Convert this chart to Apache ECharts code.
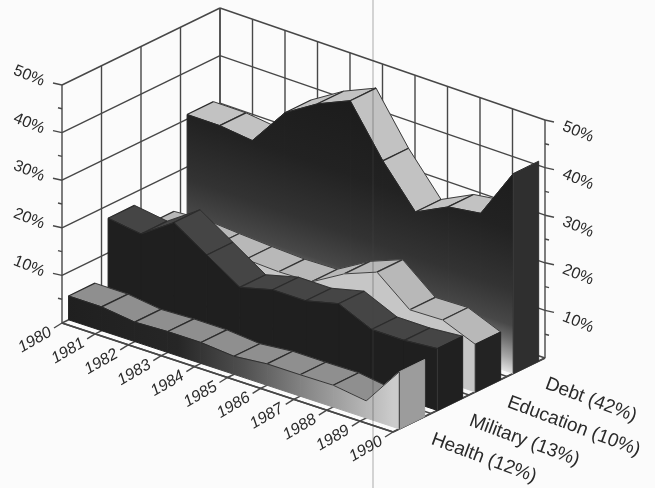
<!DOCTYPE html>
<html>
<head>
<meta charset="utf-8">
<style>html,body{margin:0;padding:0;background:#fbfbfb}#chart{width:655px;height:488px}</style>
<script src="https://cdn.jsdelivr.net/npm/echarts@6/dist/echarts.min.js"></script>
</head>
<body>
<div id="chart"></div>
<script>
// Share of spending by category, 1980-1990, drawn as a row of ribbons in an oblique box.
const years = ['1980','1981','1982','1983','1984','1985','1986','1987','1988','1989','1990'];
const pctTicks = [10, 20, 30, 40, 50];
const debt = [31, 31, 30.2, 38.4, 42.6, 45.6, 35.3, 26.9, 30.3, 31.3, 42];
const education = [12, 12.5, 12, 11.6, 11.3, 11.5, 15.5, 18.2, 12.6, 12.8, 10];
const military = [17.3, 16.3, 21, 16.5, 12, 13.8, 13.8, 15.5, 12.4, 12.4, 13];
const health = [5, 5, 4.1, 4.4, 4.4, 3.8, 4.5, 4.5, 4.6, 3.6, 12];

const FONT = '"Liberation Sans", Arial, sans-serif';
const INK = '#2a2a2a';
const LINE = '#474747';

// Floor corners of the box; the value axis rises straight up from them.
const PLOT = {left: 62, top: 85, width: 331, height: 238};
const FLOOR = {a: [62, 323], b: [393, 432], c: [545, 358], d: [220, 246]};

function floorAt(t, f) {
  const front = [FLOOR.a[0] + (FLOOR.b[0] - FLOOR.a[0]) * t, FLOOR.a[1] + (FLOOR.b[1] - FLOOR.a[1]) * t];
  const back = [FLOOR.d[0] + (FLOOR.c[0] - FLOOR.d[0]) * t, FLOOR.d[1] + (FLOOR.c[1] - FLOOR.d[1]) * t];
  return [front[0] + (back[0] - front[0]) * f, front[1] + (back[1] - front[1]) * f];
}

// Maps (year index, value, depth 0..1) through the cartesian scales onto the oblique box.
function projector(api) {
  return function (i, value, f) {
    const base = api.coord([i, 0]);
    const top = api.coord([i, value]);
    const t = (base[0] - PLOT.left) / PLOT.width;
    const p = floorAt(t, f);
    return [p[0], p[1] + top[1] - base[1]];
  };
}

const line = (p, q, width, color) => ({
  type: 'line', silent: true,
  shape: {x1: p[0], y1: p[1], x2: q[0], y2: q[1]},
  style: {stroke: color || LINE, lineWidth: width || 1.4}
});
const poly = (points, fill, stroke, width) => ({
  type: 'polygon', silent: true,
  shape: {points: points},
  style: {fill: fill, stroke: stroke || fill, lineWidth: width === undefined ? 1 : width}
});
const label = (text, p, degrees, size, italic, align) => ({
  type: 'text', silent: true, x: p[0], y: p[1], rotation: degrees * Math.PI / 180,
  style: {
    text: text, fill: INK, fontFamily: FONT, fontSize: size, fontStyle: italic ? 'italic' : 'normal',
    align: align || 'center', verticalAlign: 'middle'
  }
});

// Walls, floor, grid and axis ticks.
function renderFrame(params, api) {
  const P = projector(api);
  const els = [];
  const last = years.length - 1;
  pctTicks.forEach(v => {
    els.push(line(P(0, v, 0), P(0, v, 1)));
    els.push(line(P(0, v, 1), P(last, v, 1)));
    const l = P(0, v, 0), r = P(last, v, 1);
    els.push(line([l[0] - 9, l[1] - 2], l));
    els.push(line(r, [r[0] + 9, r[1] + 2]));
    const lm = P(0, v - 5, 0), rm = P(last, v - 5, 1);
    els.push(line([lm[0] - 4, lm[1] - 1], lm));
    els.push(line(rm, [rm[0] + 4, rm[1] + 1]));
  });
  for (let d = 0; d <= 4; d++) {
    els.push(line(P(0, 0, d / 4), P(0, 50, d / 4)));
    els.push(line(P(0, 0, d / 4), P(last, 0, d / 4)));
  }
  years.forEach((y, i) => {
    els.push(line(P(i, 0, 1), P(i, 50, 1)));
    els.push(line(P(i, 0, 0), P(i, 0, 1)));
    const t = P(i, 0, 0);
    els.push(line([t[0] - 8, t[1] + 5], t));
  });
  els.push(line(P(last, 0, 0), P(last, 0, 1), 1.6));
  els.push(line(P(0, 0, 0), P(last, 0, 0), 1.8));
  return {type: 'group', children: els};
}

// One ribbon: sloped top strip, upright front face, and a cap at the last year.
function ribbonRenderer(slot, look) {
  const near = (slot + 1 / 6) / 4;
  const far = (slot + 5 / 6) / 4;
  return function (params, api) {
    const P = projector(api);
    const i = api.value(0);
    const els = [];
    const n = years.length - 1;
    const v0 = api.value(1);
    if (i < n) {
      const v1 = params.context.values[i + 1];
      const a = P(i, v0, near), b = P(i + 1, v1, near), c = P(i + 1, v1, far), d = P(i, v0, far);
      const g0 = P(i, 0, near), g1 = P(i + 1, 0, near);
      // A strip that tilts away from the viewer sits behind its own front face.
      const depthSlope = (d[1] - a[1]) / (d[0] - a[0]);
      if ((b[1] - a[1]) / (b[0] - a[0]) > depthSlope) {
        els.push(poly([a, b, c, d], look.top, look.top, 0.4));
        els.push(line(a, d, 1.2, look.rule));
        els.push(line(b, c, 1.2, look.rule));
        els.push(line(d, c, 0.9, look.rule));
      }
      const shade = look.front(api, P);
      els.push(poly([a, b, g1, g0], shade, shade, 1));
      els.push(line(a, b, 0.9, look.rule));
    } else {
      const a = P(i, v0, near), d = P(i, v0, far), g0 = P(i, 0, near), g1 = P(i, 0, far);
      els.push(poly([a, d, g1, g0], look.cap));
      els.push(line(a, g0, 1, '#3a3a3a'));
    }
    return {type: 'group', children: els};
  };
}

function heightShade(stops) {
  return function (api, P) {
    const s = P(0, 0, (3 + 1 / 6) / 4), e = P(10, 0, (3 + 1 / 6) / 4);
    const dx = e[0] - s[0], dy = e[1] - s[1], len = Math.hypot(dx, dy);
    const span = s[1] - P(0, 50, (3 + 1 / 6) / 4)[1];
    const reach = span * dx / len;
    return new echarts.graphic.LinearGradient(
      s[0], s[1], s[0] + (dy / len) * reach, s[1] - (dx / len) * reach, stops, true);
  };
}
function sweepShade(stops) {
  return function (api, P) {
    const s = P(0, 0, 0), e = P(10, 0, 0);
    return new echarts.graphic.LinearGradient(s[0], 0, e[0], 0, stops, true);
  };
}
const flat = color => () => color;

const looks = {
  debt: {
    top: '#c2c2c2', cap: '#2f2f2f', rule: '#2a2a2a',
    front: heightShade([
      {offset: 0, color: '#e0e0e0'}, {offset: 0.06, color: '#a8a8a8'}, {offset: 0.14, color: '#6c6c6c'},
      {offset: 0.2, color: '#484848'}, {offset: 0.35, color: '#333333'}, {offset: 0.6, color: '#222222'}, {offset: 1, color: '#1a1a1a'}])
  },
  education: {top: '#b8b8b8', cap: '#232323', rule: '#333', front: flat('#c6c6c6')},
  military: {top: '#454545', cap: '#202020', rule: '#2c2c2c', front: flat('#1f1f1f')},
  health: {
    top: '#8f8f8f', cap: '#9c9c9c', rule: '#2a2a2a',
    front: sweepShade([
      {offset: 0, color: '#1f1f1f'}, {offset: 0.35, color: '#262626'}, {offset: 0.55, color: '#505050'},
      {offset: 0.75, color: '#8a8a8a'}, {offset: 1, color: '#cbcbcb'}])
  }
};

const ribbons = [
  {name: 'Debt', values: debt, slot: 3, look: looks.debt},
  {name: 'Education', values: education, slot: 2, look: looks.education},
  {name: 'Military', values: military, slot: 1, look: looks.military},
  {name: 'Health', values: health, slot: 0, look: looks.health}
];

// Rotated text along the three edges of the box.
function renderLabels(params, api) {
  const P = projector(api);
  const els = [];
  pctTicks.forEach(v => {
    const l = P(0, v, 0), r = P(10, v, 1);
    els.push(label(v + '%', [l[0] - 33, l[1] - 9], -22, 16));
    els.push(label(v + '%', [r[0] + 33, r[1] + 12], -22, 16));
  });
  years.forEach((y, i) => {
    const t = P(i, 0, 0);
    els.push(label(y, [t[0] - 27, t[1] + 17], 30, 16, true));
  });
  ribbons.forEach(r => {
    const t = P(10, 0, (r.slot + 0.5) / 4);
    els.push(label(r.name + ' (' + r.values[r.values.length - 1] + '%)', [t[0] + 20, t[1] + 16], -20.5, 19, false, 'left'));
  });
  return {type: 'group', children: els};
}

const series = [
  {type: 'custom', name: 'frame', z: 1, silent: true, clip: false, data: [[0, 0]], encode: {x: 0, y: 1}, renderItem: renderFrame}
];
ribbons.forEach((r, k) => {
  series.push({
    type: 'custom', name: r.name, z: 2 + k, silent: true, clip: false,
    data: r.values.map((v, i) => [i, v]), encode: {x: 0, y: 1},
    renderItem: (function () {
      const draw = ribbonRenderer(r.slot, r.look);
      return function (params, api) {
        params.context.values = r.values;
        return draw(params, api);
      };
    })()
  });
});
series.push({type: 'custom', name: 'labels', z: 10, silent: true, clip: false, data: [[0, 0]], encode: {x: 0, y: 1}, renderItem: renderLabels});

const chart = echarts.init(document.getElementById('chart'), null, {renderer: 'canvas'});
chart.setOption({
  animation: false,
  backgroundColor: '#fbfbfb',
  tooltip: {show: false},
  grid: {left: PLOT.left, top: PLOT.top, width: PLOT.width, height: PLOT.height},
  xAxis: {type: 'category', data: years, boundaryGap: false, show: false},
  yAxis: {type: 'value', min: 0, max: 50, interval: 10, show: false},
  graphic: [{
    // Binding crease running down the page.
    type: 'line', z: 50, silent: true,
    shape: {x1: 373, y1: 0, x2: 373, y2: 488},
    style: {stroke: 'rgba(70,70,70,0.28)', lineWidth: 1.6}
  }],
  series: series
});
</script>
</body>
</html>
